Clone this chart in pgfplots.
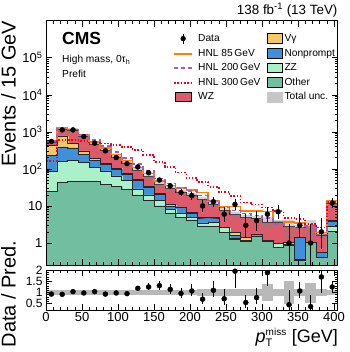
\documentclass[border=0pt]{standalone}
\usepackage{fontspec}
\setmainfont{Liberation Sans}
\usepackage{amsmath}
\usepackage{pgfplots}
\pgfplotsset{compat=1.18}
\usepackage{pgfplotstable}

\definecolor{cWZ}{RGB}{222,90,106}
\definecolor{cVg}{RGB}{248,200,100}
\definecolor{cNP}{RGB}{63,144,218}
\definecolor{cZZ}{RGB}{170,240,200}
\definecolor{cOth}{RGB}{113,190,160}
\definecolor{cH85}{RGB}{255,128,0}
\definecolor{cH200}{RGB}{170,90,190}
\definecolor{cH300}{RGB}{240,0,30}

% background components per 15 GeV bin (left edge), last row closes the step
\pgfplotstableread{
x   other zz   np   vg   wz    h85  h200 h300 u
0   25    60   150  200  95    570  560  165  0.13
15  43    120  230  380  420   1250 1220 600  0.13
30  47    120  200  130  600   1150 1150 600  0.13
45  47    100  100  60   440   810  850  560  0.13
60  45    65   60   20   285   530  600  515  0.13
75  38    50   42   8    185   370  420  480  0.13
90  33    32   35   5    105   245  290  440  0.13
105 28    22   22   4    70    170  200  390  0.13
120 20    9    21   2    41    110  135  325  0.13
135 14    6    12   1.5  28.5  75   90   240  0.13
150 10    4    7    1    16    47   55   155  0.13
165 6.5   1.5  2    0.8  19.2  36   40   113  0.13
180 5     1.2  2.8  0.3  14.7  30   30   79   0.13
195 4.2   0.8  1.5  0.2  13.3  27   25   57   0.13
210 2.9   0.6  1.3  0.1  10.1  23   19   45   0.14
225 2.8   0.8  1.2  0.1  6.1   13.4 14   33   0.15
240 1.9   0.7  0.05 0.05 4.8   9.6  9    24   0.15
255 1.26  0.05 0.3  0.3  4.09  9.6  7.5  18.6 0.15
270 1.13  0.01 0.01 0.26 3.59  7.3  6.2  12.3 0.15
285 1.55  0.01 0.2  0.01 2.83  7.3  5.5  11   0.15
300 1.13  0.05 0.01 0.01 2.5   7    4.8  9    0.4
315 0.75  0.22 0.01 0.01 2.61  3.8  3.2  7.3  0.15
330 0.88  0.01 0.01 0.14 1.76  3.7  2.6  4.8  0.5
345 0.35  0.01 1.03 0.01 1.3   3.5  2.6  4.4  0.15
360 1.02  0.01 0.01 0.01 1.75  2.8  2.9  3.3  0.45
375 0.4   0.01 0.15 0.01 1.03  1.9  1.7  2.6  0.15
390 2.1   0.77 1.06 0.1  7.97  14   13   13   0.12
405 2.1   0.77 1.06 0.1  7.97  14   13   13   0.12
}\bkg

\pgfplotstableread{
xc    d    em    ep
7.5   550  23.5  23.5
22.5  1130 33.6  33.6
37.5  1130 33.6  33.6
52.5  745  27.3  27.3
67.5  495  22.2  22.2
82.5  307  17.5  17.5
97.5  203  14.2  14.2
112.5 139  11.8  11.8
127.5 113  10.6  10.6
142.5 79   8.4   9.9
157.5 50   7.0   8.1
172.5 35   5.9   7.0
187.5 23   4.8   5.8
202.5 19   4.3   5.5
217.5 10   3.11  4.26
232.5 13   3.57  4.73
247.5 6    2.38  3.58
262.5 11   3.27  4.42
277.5 3    1.63  2.92
292.5 4    1.91  3.16
307.5 6    2.38  3.58
322.5 7    2.58  3.77
337.5 1    0.83  2.30
352.5 3    1.63  2.92
367.5 1    0.83  2.30
382.5 2    1.29  2.64
397.5 12   3.42  4.57
}\dat

\pgfplotstableread{
xc    r    em    ep
7.5   0.93 0.04  0.04
22.5  0.92 0.03  0.03
37.5  1.04 0.03  0.03
52.5  0.98 0.04  0.04
67.5  1.04 0.05  0.05
82.5  0.93 0.055 0.055
97.5  0.98 0.07  0.07
112.5 0.95 0.08  0.08
127.5 1.19 0.11  0.12
142.5 1.25 0.14  0.16
157.5 1.31 0.18  0.21
172.5 1.14 0.19  0.23
187.5 0.96 0.20  0.24
202.5 1.07 0.24  0.31
217.5 0.70 0.22  0.30
232.5 1.10 0.30  0.40
247.5 0.72 0.29  0.43
262.5 1.96 0.75  0.50
277.5 0.55 0.25  0.34
292.5 0.77 0.30  0.45
307.5 1.89 0.60  0.50
337.5 0.45 0.35  0.65
352.5 1.07 0.30  0.40
367.5 0.37 0.30  0.50
382.5 1.70 0.70  0.50
397.5 1.25 0.25  0.25
}\rat

\pgfplotsset{
  cmsaxis/.style={
    scale only axis,
    width=291.6pt,
    xmin=0, xmax=405,
    tick align=inside,
    major tick length=6pt,
    minor tick length=3pt,
    axis line style={line width=0.8pt},
    every tick/.style={black, line width=0.5pt},
    tick label style={font=\fontsize{13}{15}\selectfont},
    xtick={0,50,...,400},
    minor x tick num=4,
    axis on top,
  },
  bars/.style={ybar interval, draw=#1, line width=0.2pt, fill=#1, forget plot},
  edge/.style={const plot, black!85, line width=0.5pt, forget plot},
}

\begin{document}
\begin{tikzpicture}
\useasboundingbox (0,0) rectangle (349pt,-352pt);

\begin{axis}[cmsaxis,
  at={(46pt,-20.7pt)}, anchor=north west,
  height=244.6pt,
  ymode=log, ymin=0.25, ymax=1e6, log origin=infty,
  xticklabels={},
  ytick={1,10,100,1000,10000,100000},
  yticklabels={1,10,10\textsuperscript{2},10\textsuperscript{3},10\textsuperscript{4},10\textsuperscript{5}},
  legend columns=5, transpose legend, legend cell align=left,
  legend style={at={(0.425,0.958)}, anchor=north west, draw=none, fill=none,
    font=\fontsize{10.2}{12}\selectfont, row sep=4.4pt,
    nodes={inner sep=0pt, text height=7.5pt, text depth=2.2pt},
    /tikz/column 1/.style={column sep=5pt},
    /tikz/column 2/.style={column sep=6.5pt},
    /tikz/column 3/.style={column sep=2pt}},
]
% stacked backgrounds, drawn as cumulative sums from the top down
\addplot[bars=cWZ] table[x=x, y expr=\thisrow{other}+\thisrow{zz}+\thisrow{np}+\thisrow{vg}+\thisrow{wz}] {\bkg};
\addplot[bars=cVg] table[x=x, y expr=\thisrow{other}+\thisrow{zz}+\thisrow{np}+\thisrow{vg}] {\bkg};
\addplot[bars=cNP] table[x=x, y expr=\thisrow{other}+\thisrow{zz}+\thisrow{np}] {\bkg};
\addplot[bars=cZZ] table[x=x, y expr=\thisrow{other}+\thisrow{zz}] {\bkg};
\addplot[bars=cOth] table[x=x, y=other] {\bkg};
\addplot[edge] table[x=x, y expr=\thisrow{other}+\thisrow{zz}+\thisrow{np}+\thisrow{vg}+\thisrow{wz}] {\bkg};
\addplot[edge] table[x=x, y expr=\thisrow{other}+\thisrow{zz}+\thisrow{np}+\thisrow{vg}] {\bkg};
\addplot[edge] table[x=x, y expr=\thisrow{other}+\thisrow{zz}+\thisrow{np}] {\bkg};
\addplot[edge] table[x=x, y expr=\thisrow{other}+\thisrow{zz}] {\bkg};
\addplot[edge] table[x=x, y=other] {\bkg};

% total uncertainty band: one bin-wide bar per bin
\addplot[draw=none, mark=none, forget plot,
  error bars/.cd, y dir=both, y explicit relative,
  error bar style={line width=10.8pt, draw=gray, draw opacity=0.35}, error mark=none]
  table[x expr=\thisrow{x}+7.5, y expr=\thisrow{other}+\thisrow{zz}+\thisrow{np}+\thisrow{vg}+\thisrow{wz}, y error=u] {\bkg};

% signals
\addplot[const plot, cH85, line width=1.6pt, forget plot] table[x=x, y=h85] {\bkg};
\addplot[const plot, cH200, line width=1.6pt, dash pattern=on 4pt off 3pt, forget plot] table[x=x, y=h200] {\bkg};
\addplot[const plot, cH300, line width=1.6pt, dash pattern=on 1.5pt off 1.8pt, forget plot] table[x=x, y=h300] {\bkg};

% data
\addplot[only marks, mark=*, mark size=2.5pt, black, forget plot,
  error bars/.cd, y dir=both, y explicit, error bar style={line width=0.9pt}, error mark=none]
  table[x=xc, y=d, y error plus=ep, y error minus=em] {\dat};

% legend
\addlegendimage{legend image code/.code={\draw[black, line width=0.9pt] (9pt,-5pt)--(9pt,5pt); \fill[black] (9pt,0pt) circle (2.4pt);}}
\addlegendentry{Data}
\addlegendimage{legend image code/.code={\draw[color=cH85, line width=2pt] (0pt,0pt)--(18pt,0pt);}}
\addlegendentry{HNL 85\,GeV}
\addlegendimage{legend image code/.code={\draw[color=cH200, line width=2pt, dash pattern=on 4pt off 3pt] (0pt,0pt)--(18pt,0pt);}}
\addlegendentry{HNL 200\,GeV}
\addlegendimage{legend image code/.code={\draw[color=cH300, line width=2pt, dash pattern=on 1.5pt off 1.8pt] (0pt,0pt)--(18pt,0pt);}}
\addlegendentry{HNL 300\,GeV}
\addlegendimage{legend image code/.code={\filldraw[fill=cWZ, draw=black, line width=0.5pt] (1pt,-4.5pt) rectangle (17pt,5pt);}}
\addlegendentry{WZ}
\addlegendimage{legend image code/.code={\filldraw[fill=cVg, draw=black, line width=0.5pt] (1pt,-4.5pt) rectangle (16pt,5pt);}}
\addlegendentry{Vγ}
\addlegendimage{legend image code/.code={\filldraw[fill=cNP, draw=black, line width=0.5pt] (1pt,-4.5pt) rectangle (16pt,5pt);}}
\addlegendentry{Nonprompt}
\addlegendimage{legend image code/.code={\filldraw[fill=cZZ, draw=black, line width=0.5pt] (1pt,-4.5pt) rectangle (16pt,5pt);}}
\addlegendentry{ZZ}
\addlegendimage{legend image code/.code={\filldraw[fill=cOth, draw=black, line width=0.5pt] (1pt,-4.5pt) rectangle (16pt,5pt);}}
\addlegendentry{Other}
\addlegendimage{legend image code/.code={\fill[gray!45] (1pt,-4.5pt) rectangle (16pt,5pt);}}
\addlegendentry{Total unc.}
\end{axis}

\begin{axis}[cmsaxis,
  at={(46pt,-270.3pt)}, anchor=north west,
  height=40pt,
  ymin=0.2, ymax=2,
  ytick={0.5,1,1.5,2}, yticklabels={0.5,1,1.5,2},
  yticklabel style={font=\fontsize{12}{13}\selectfont},
  minor y tick num=4,
  xticklabels={0,50,100,150,200,250,300,350,400},
  xticklabel style={yshift=1.5pt},
]
\addplot[draw=none, mark=none,
  error bars/.cd, y dir=both, y explicit,
  error bar style={line width=10.8pt, draw=gray!55}, error mark=none]
  table[x expr=\thisrow{x}+7.5, y expr=1, y error=u] {\bkg};
\addplot[only marks, mark=*, mark size=2.5pt, black,
  error bars/.cd, y dir=both, y explicit, error bar style={line width=0.9pt}, error mark=none]
  table[x=xc, y=r, y error plus=ep, y error minus=em] {\rat};
\end{axis}

% texts
\node[anchor=base west, inner sep=0pt, font=\fontsize{17.5}{20}\selectfont\bfseries] at (62pt,-45pt) {CMS};
\node[anchor=base west, inner sep=0pt, font=\fontsize{10.2}{12}\selectfont] at (62pt,-63pt) {High mass, 0τ\textsubscript{h}};
\node[anchor=base west, inner sep=0pt, font=\fontsize{10.2}{12}\selectfont] at (62pt,-77.5pt) {Prefit};
\node[anchor=base east, inner sep=0pt, font=\fontsize{13.4}{15}\selectfont] at (337.6pt,-15pt) {138 fb\textsuperscript{-1} (13 TeV)};
\node[rotate=90, anchor=north east, inner sep=0pt, font=\fontsize{20}{24}\selectfont] at (1pt,-20.7pt) {Events / 15 GeV};
\node[rotate=90, anchor=north, inner sep=0pt, font=\fontsize{20}{24}\selectfont] at (1pt,-294pt) {Data / Pred.};
\node[anchor=base east, inner sep=0pt, font=\fontsize{18}{21}\selectfont] at (338pt,-342pt)
  {$\textit{p}_{\text{\fontsize{11}{12}\selectfont T}}^{\text{\fontsize{10}{12}\selectfont miss}}$ [GeV]};
\end{tikzpicture}
\end{document}
